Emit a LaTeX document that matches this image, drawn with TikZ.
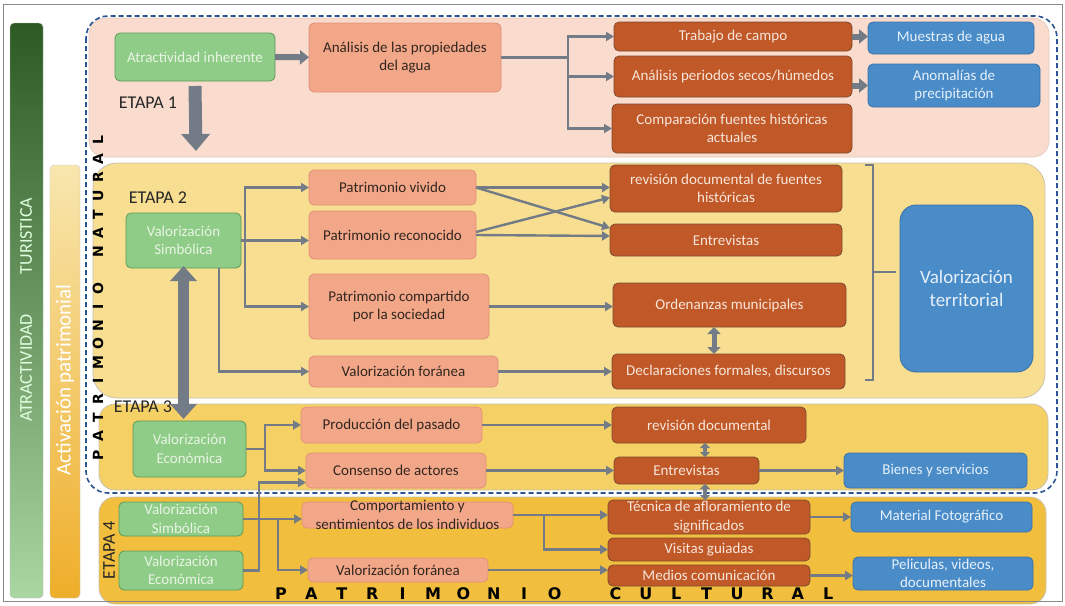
\documentclass[tikz,border=0pt]{standalone}
\usepackage{fontspec}
\setmainfont{Carlito}
\newfontfamily\heavysans{DejaVu Sans}
\usetikzlibrary{arrows.meta}
\definecolor{framec}{HTML}{8A8A8A}
\definecolor{eone}{HTML}{F9DCCD}
\definecolor{etwo}{HTML}{F7DE91}
\definecolor{ethree}{HTML}{F5D064}
\definecolor{efour}{HTML}{F1BE3E}
\definecolor{regline}{HTML}{C8C2B0}
\definecolor{gfill}{HTML}{8FCC87}
\definecolor{gline}{HTML}{5E9A58}
\definecolor{gtextc}{HTML}{E8F4E4}
\definecolor{sfill}{HTML}{F2A789}
\definecolor{sline}{HTML}{E2907A}
\definecolor{stextc}{HTML}{33261F}
\definecolor{rfill}{HTML}{C05828}
\definecolor{rline}{HTML}{7E4A30}
\definecolor{rtextc}{HTML}{F8E6DA}
\definecolor{bfill}{HTML}{4A8CC8}
\definecolor{bline}{HTML}{3A72A8}
\definecolor{btextc}{HTML}{E6F0FA}
\definecolor{arr}{HTML}{737B87}
\definecolor{dashblue}{HTML}{2A5590}
\definecolor{dgTop}{HTML}{2C5A22}
\definecolor{dgMid}{HTML}{4E8A44}
\definecolor{dgBot}{HTML}{AAD6A2}
\definecolor{ybTop}{HTML}{F8E6AE}
\definecolor{ybBot}{HTML}{EFAE2A}
\newcommand\nodefnt{\fontsize{15}{18.5}\selectfont}
\newcommand\mkbox[7]{%
  \node[#2box, minimum width={#5-#3}, minimum height={#6-#4}] (#1) at ({(#3+#5)/2},{(#4+#6)/2}) {};
  \node[#2txt] (#1-t) at (#1.center) {#7};
}
\begin{document}
\begin{tikzpicture}[x=1pt,y=-1pt,
  every node/.style={inner sep=0pt,outer sep=0pt},
  gbox/.style={draw=gline, fill=gfill, line width=0.8pt, rounded corners=5pt},
  gtxt/.style={text=gtextc, align=center, font=\nodefnt},
  sbox/.style={draw=sline, fill=sfill, line width=0.8pt, rounded corners=5pt},
  stxt/.style={text=stextc, align=center, font=\nodefnt},
  rbox/.style={draw=rline, fill=rfill, line width=0.8pt, rounded corners=5pt},
  rtxt/.style={text=rtextc, align=center, font=\nodefnt},
  bbox/.style={draw=bline, fill=bfill, line width=0.8pt, rounded corners=5pt},
  btxt/.style={text=btextc, align=center, font=\nodefnt},
  vbox/.style={draw=bline, fill=bfill, line width=0.8pt, rounded corners=16pt},
  vtxt/.style={text=btextc, align=center, font=\fontsize{19}{23}\selectfont},
  conn/.style={draw=arr, line width=2.4pt, -{Triangle[length=8pt,width=9pt]}},
  plain/.style={draw=arr, line width=2.4pt},
  fat/.style={draw=arr, line width=6pt, -{Triangle[length=9pt,width=14pt]}},
  bigdown/.style={draw=arr, line width=13pt, -{Triangle[length=17pt,width=28pt]}},
  bigboth/.style={draw=arr, line width=11pt, {Triangle[length=15pt,width=26pt]}-{Triangle[length=15pt,width=26pt]}},
  midboth/.style={draw=arr, line width=5pt, {Triangle[length=7pt,width=13pt]}-{Triangle[length=7pt,width=13pt]}},
  smallboth/.style={draw=arr, line width=4pt, {Triangle[length=5pt,width=10pt]}-{Triangle[length=5pt,width=10pt]}},
  etapa/.style={text=black!85, font=\fontsize{18}{20}\selectfont},
  pletter/.style={text=black, font=\heavysans\bfseries\fontsize{16}{16}\selectfont},
  nletter/.style={text=black, rotate=90, font=\heavysans\bfseries\fontsize{14}{14}\selectfont}
]
\useasboundingbox (0,0) rectangle (1065,605);
\fill[white] (0,0) rectangle (1065,605);

% side bars
\shade[top color=dgTop, middle color=dgMid, bottom color=dgBot, rounded corners=4pt, draw=gray!50] (10,23) rectangle (43,598);
\shade[top color=ybTop, bottom color=ybBot, rounded corners=4pt, draw=gray!40] (50,165) rectangle (80,598);
\node[rotate=90, text=white!88!green, font=\fontsize{18}{20}\selectfont] (atrtxt) at (26,368) {ATRACTIVIDAD};
\node[rotate=90, text=white!88!green, font=\fontsize{18}{20}\selectfont] (turtxt) at (26,236) {TURISTICA};
\node[rotate=90, text=white, font=\fontsize{21}{24}\selectfont] (acttxt) at (65,380) {Activación patrimonial};

% stage regions
\filldraw[fill=eone, draw=eone!80!gray, line width=0.6pt, rounded corners=16pt] (89,18) rectangle (1049,157);
\filldraw[fill=etwo, draw=regline, line width=0.8pt, rounded corners=24pt] (93,163) rectangle (1045,398);
\filldraw[fill=ethree, draw=regline, line width=0.8pt, rounded corners=16pt] (99,404) rectangle (1048,490);
\filldraw[fill=efour, draw=regline, line width=0.8pt, rounded corners=16pt] (99,497) rectangle (1046,604);

% dashed outline
\draw[dashblue, line width=1.6pt, dash pattern=on 5pt off 3pt, rounded corners=22pt] (86,16) rectangle (1057,493);

% ETAPA 1
\node[etapa] (et1) at (148,103) {ETAPA 1};
\mkbox{atr1}{g}{115}{33}{275}{81}{Atractividad inherente}
\mkbox{ana}{s}{309}{23}{501}{92}{Análisis de las propiedades\\del agua}
\mkbox{tra}{r}{614}{22}{852}{51}{Trabajo de campo}
\mkbox{per}{r}{614}{56}{852}{97}{Análisis periodos secos/húmedos}
\mkbox{com}{r}{612}{104}{852}{153}{Comparación fuentes históricas\\actuales}
\mkbox{mue}{b}{868}{22}{1034}{54}{Muestras de agua}
\mkbox{ano}{b}{868}{64}{1040}{107}{Anomalías de\\precipitación}

% ETAPA 2
\node[etapa] (et2) at (158,198) {ETAPA 2};
\mkbox{vs2}{g}{126}{213}{241}{268}{Valorización\\Simbólica}
\mkbox{pv}{s}{309}{170}{476}{205}{Patrimonio vivido}
\mkbox{pr}{s}{309}{211}{476}{259}{Patrimonio reconocido}
\mkbox{pc}{s}{309}{274}{489}{339}{Patrimonio compartido\\por la sociedad}
\mkbox{vf2}{s}{309}{356}{498}{387}{Valorización foránea}
\mkbox{rd2}{r}{610}{165}{842}{212}{revisión documental de fuentes\\históricas}
\mkbox{en2}{r}{610}{224}{842}{256}{Entrevistas}
\mkbox{ord}{r}{613}{283}{846}{327}{Ordenanzas municipales}
\mkbox{dec}{r}{612}{354}{845}{389}{Declaraciones formales, discursos}
\mkbox{vt}{v}{900}{205}{1033}{372}{Valorización\\territorial}

% ETAPA 3
\node[etapa] (et3) at (143,407) {ETAPA 3};
\mkbox{ve3}{g}{133}{421}{246}{477}{Valorización\\Económica}
\mkbox{pp}{s}{301}{407}{482}{443}{Producción del pasado}
\mkbox{ca}{s}{306}{453}{486}{488}{Consenso de actores}
\mkbox{rd3}{r}{612}{407}{806}{443}{revisión documental}
\mkbox{en3}{r}{614}{457}{759}{484}{Entrevistas}
\mkbox{bs}{b}{844}{453}{1027}{488}{Bienes y servicios}

% ETAPA 4
\node[etapa, rotate=90] (et4) at (109,550) {ETAPA 4};
\mkbox{vs4}{g}{119}{502}{243}{536}{Valorización\\Simbólica}
\mkbox{ve4}{g}{119}{551}{243}{590}{Valorización\\Económica}
\mkbox{cs}{s}{302}{502}{513}{528}{Comportamiento y\\sentimientos de los individuos}
\mkbox{vf4}{s}{308}{558}{488}{582}{Valorización foránea}
\mkbox{tec}{r}{608}{500}{810}{534}{Técnica de afloramiento de\\significados}
\mkbox{vg}{r}{608}{538}{810}{561}{Visitas guiadas}
\mkbox{mc}{r}{608}{565}{810}{586}{Medios comunicación}
\mkbox{mf}{b}{851}{502}{1032}{532}{Material Fotográfico}
\mkbox{pel}{b}{853}{557}{1033}{590}{Peliculas, videos,\\documentales}

% connectors etapa 1
\draw[fat] (atr1) -- (ana);
\coordinate (j1) at (568,57);
\draw[plain] (ana.east) -- (ana.east -| j1);
\draw[conn] (ana.east -| j1) |- (tra.west);
\draw[conn] (ana.east -| j1) |- (per.west);
\draw[conn] (ana.east -| j1) |- (com.west);
\draw[fat] (tra.east) -- (tra.east -| mue.west);
\draw[fat] (per.east |- ano.west) -- (ano.west);
\coordinate (e2in) at (196,151);
\draw[bigdown] ([yshift=-5pt]atr1.south) -- (e2in);

% connectors etapa 2
\coordinate (j2) at (245,0);
\draw[conn] (vs2.east) -- (vs2.east -| pr.west);
\draw[conn] (vs2.east -| j2) |- (pv.west);
\draw[conn] (vs2.east -| j2) |- (pc.west);
\coordinate (j3) at (219,0);
\draw[conn] (vs2.south -| j3) |- (vf2.west);
\draw[conn] (pv.east) -- (pv.east -| rd2.west);
\draw[conn] (pv.east) -- ([yshift=12pt]en2.west);
\draw[conn] ([yshift=3pt]pr.east) -- ([yshift=-9pt]rd2.west);
\draw[conn] (pr.east) -- ([yshift=4pt]en2.west);
\draw[conn] (pc.east) -- (pc.east -| ord.west);
\draw[conn] (vf2.east) -- (vf2.east -| dec.west);
\coordinate (j4) at (714,0);
\draw[midboth] (ord.south -| j4) -- (dec.north -| j4);
\coordinate (bt) at (865,165);
\coordinate (bb) at (865,380);
\coordinate (bm) at (873,272);
\draw[plain, line width=2pt] (bt) -- ++(8,0) -- ++(0,215) -- (bb);
\draw[plain, line width=2pt] (bm) -- ++(23,0);
\draw[bigboth] ([yshift=2pt]vs2.south) -- ([yshift=2pt]vs2.south |- ve3.north);

% connectors etapa 3
\coordinate (j5) at (265,0);
\draw[plain] (ve3.east) -- (ve3.east -| j5);
\draw[conn] (ve3.east -| j5) |- (pp.west);
\draw[conn] (ve3.east -| j5) |- (ca.west);
\draw[conn] (pp.east) -- (pp.east -| rd3.west);
\draw[conn] (ca.east) -- (ca.east -| en3.west);
\draw[conn] (en3.east) -- (en3.east -| bs.west);
\coordinate (j6) at (705,0);
\draw[smallboth] (rd3.south -| j6) -- (en3.north -| j6);
\draw[smallboth] (en3.south -| j6) -- (tec.north -| j6);

% connectors etapa 4
\coordinate (j7) at (278,0);
\draw[conn] (vs4.east) -- (vs4.east -| cs.west);
\draw[conn] (vs4.east -| j7) |- (vf4.west);
\coordinate (j8) at (259,0);
\draw[conn] (ve4.east) -- (ve4.east -| j8) |- ([yshift=-12pt]ca.west);
\draw[conn] (cs.east) -- (cs.east -| tec.west);
\coordinate (j9) at (544,0);
\draw[conn] (cs.east -| j9) |- (vg.west);
\draw[conn] (vf4.east) -- (vf4.east -| mc.west);
\draw[conn] (tec.east) -- (tec.east -| mf.west);
\draw[conn] (mc.east) -- (mc.east -| pel.west);

% spaced titles
\foreach \l [count=\i from 0] in {P,A,T,R,I,M,O,N,I,O}
  \node[pletter] (pcA\i) at (281+30.4*\i,594) {\l};
\foreach \l [count=\i from 11] in {C,U,L,T,U,R,A,L}
  \node[pletter] (pcB\i) at (281+30.4*\i,594) {\l};
\foreach \l [count=\i from 0] in {P,A,T,R,I,M,O,N,I,O}
  \node[nletter] (pnA\i) at (98,455-18.5*\i) {\l};
\foreach \l [count=\i from 11] in {N,A,T,U,R,A,L}
  \node[nletter] (pnB\i) at (98,455-18.5*\i) {\l};

% frame
\draw[framec, line width=0.8pt] (3,4) rectangle (1062,601);
\end{tikzpicture}
\end{document}
